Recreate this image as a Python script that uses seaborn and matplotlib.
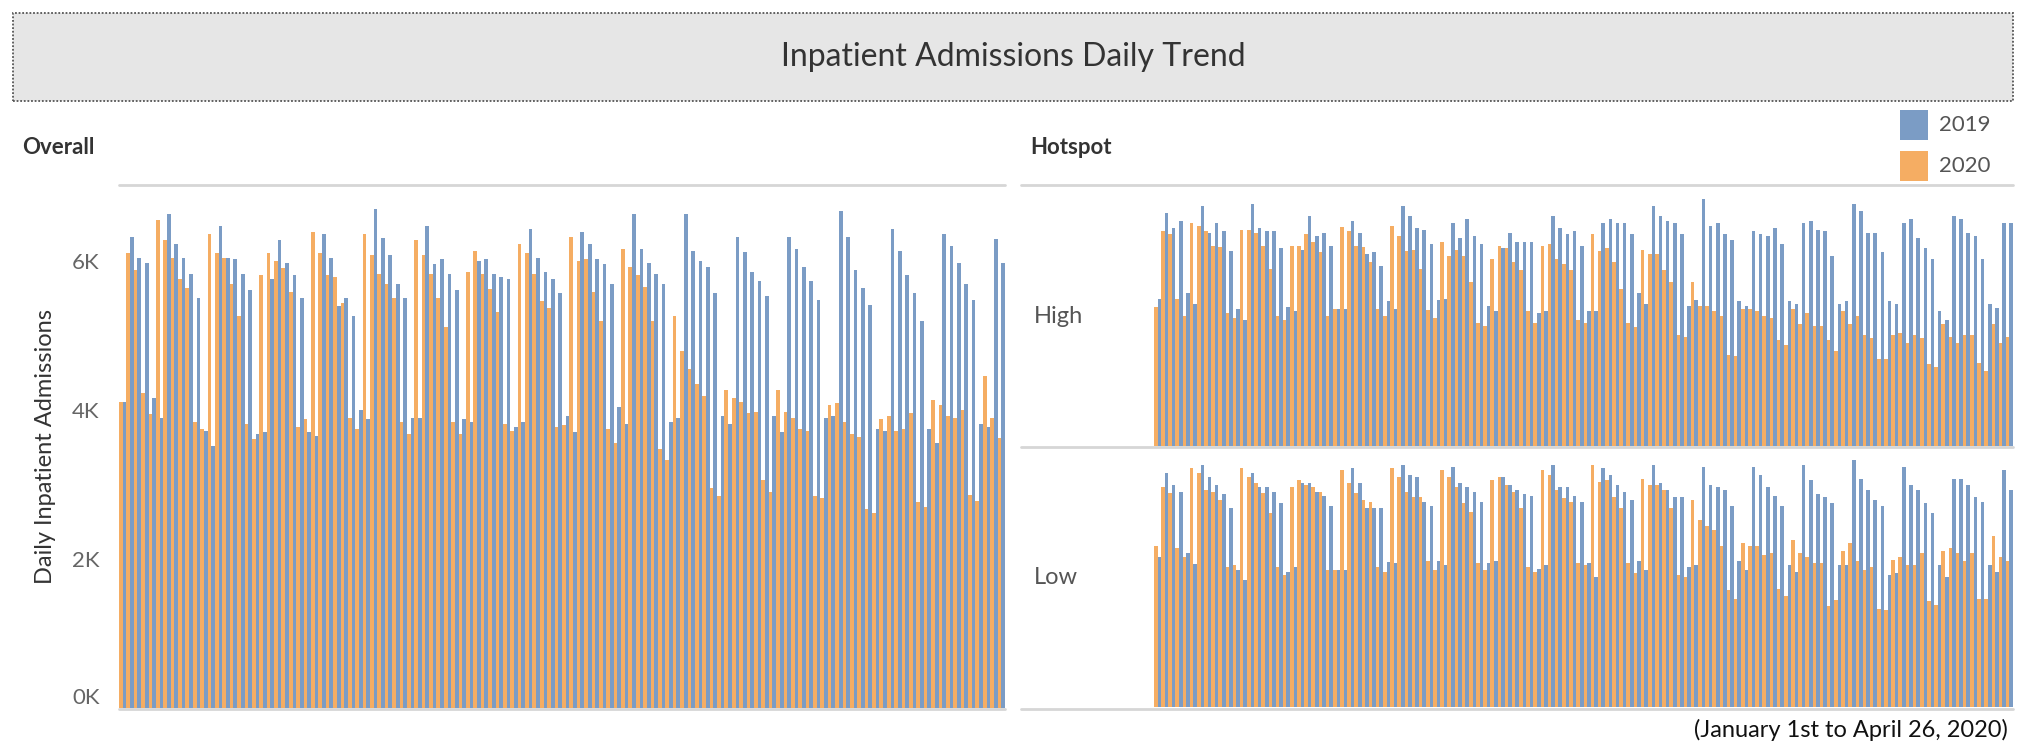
import pandas as pd
import seaborn as sns
import matplotlib.pyplot as plt
from matplotlib.patches import Rectangle
from matplotlib.lines import Line2D

# day of year, Jan 1 .. Apr 29/30
days = list(range(1, 121))

# overall daily inpatient admissions, in thousands
overall_2019 = [4.11, 6.32, 6.04, 5.97, 4.16, 3.89, 6.63, 6.22, 6.04, 5.82, 5.50, 3.71, 3.52, 6.46, 6.03, 6.02, 5.82, 5.61, 3.68, 3.70,
                5.75, 6.27, 5.97, 5.80, 5.50, 3.70, 3.65, 6.36, 6.03, 5.39, 5.50, 5.25, 4.00, 3.87, 6.69, 6.30, 6.07, 5.68, 5.50, 3.89,
                3.89, 6.46, 5.95, 6.02, 5.82, 5.61, 3.87, 3.84, 6.00, 6.02, 5.82, 5.78, 5.75, 3.77, 3.84, 6.42, 6.04, 5.85, 5.75, 5.56,
                3.92, 3.70, 6.38, 6.22, 6.02, 5.95, 5.68, 4.03, 3.81, 6.63, 6.16, 5.97, 5.82, 5.68, 3.84, 3.89, 6.63, 6.13, 6.00, 5.92,
                5.56, 3.92, 3.81, 6.32, 6.11, 5.85, 5.73, 5.53, 3.92, 3.70, 6.32, 6.16, 5.92, 5.73, 5.47, 3.89, 3.92, 6.66, 6.32, 5.88,
                5.63, 5.41, 3.74, 3.72, 6.42, 6.13, 5.80, 5.56, 5.19, 3.74, 3.55, 6.36, 6.20, 5.97, 5.68, 5.47, 3.81, 3.77, 6.29, 5.97]
overall_2020 = [4.11, 6.10, 5.88, 4.22, 3.94, 6.55, 6.27, 6.04, 5.75, 5.63, 3.84, 3.74, 6.36, 6.10, 6.04, 5.68, 5.25, 3.81, 3.61, 5.80,
                6.10, 6.00, 5.90, 5.58, 3.77, 3.87, 6.38, 6.10, 5.80, 5.78, 5.43, 3.89, 3.74, 6.36, 6.07, 5.82, 5.68, 5.50, 3.84, 3.68,
                6.27, 6.07, 5.82, 5.50, 5.11, 3.84, 3.68, 5.85, 6.13, 5.82, 5.62, 5.31, 3.81, 3.72, 6.22, 6.10, 5.82, 5.46, 5.37, 3.77,
                3.79, 6.32, 6.00, 6.02, 5.58, 5.19, 3.74, 3.55, 6.16, 5.92, 5.80, 5.64, 5.19, 3.47, 3.33, 5.25, 4.79, 4.55, 4.34, 4.19,
                2.95, 2.84, 4.26, 4.16, 4.11, 3.95, 3.97, 3.06, 2.89, 4.26, 3.97, 3.89, 3.74, 3.72, 2.84, 2.81, 4.06, 4.09, 3.84, 3.67,
                3.64, 2.67, 2.62, 3.87, 3.92, 3.72, 3.74, 3.95, 2.76, 2.69, 4.13, 4.06, 3.92, 3.89, 4.00, 2.86, 2.78, 4.45, 3.89, 3.62]

# hotspot panels (no axis shown, estimated in thousands)
high_2019 = [2.20, 3.49, 3.27, 3.37, 2.29, 2.13, 3.59, 3.19, 3.34, 3.22, 2.92, 2.05, 1.89, 3.62, 3.27, 3.22, 3.22, 2.97, 2.08, 2.02,
             2.94, 3.45, 3.15, 3.19, 3.00, 2.05, 2.05, 3.37, 3.19, 2.87, 2.90, 2.69, 2.17, 2.05, 3.59, 3.45, 3.27, 3.24, 3.03, 2.19,
             2.20, 3.34, 3.12, 3.40, 3.15, 3.03, 2.10, 2.02, 2.97, 3.19, 3.05, 3.05, 3.05, 1.99, 2.02, 3.44, 3.27, 3.17, 3.22, 3.00,
             2.02, 2.02, 3.34, 3.40, 3.34, 3.34, 3.17, 2.29, 2.13, 3.59, 3.44, 3.37, 3.34, 3.17, 2.09, 2.18, 3.70, 3.30, 3.34, 3.17,
             3.09, 2.17, 2.10, 3.22, 3.17, 3.15, 3.27, 3.03, 2.17, 2.13, 3.34, 3.37, 3.24, 3.22, 2.84, 2.13, 2.17, 3.62, 3.52, 3.19,
             3.19, 2.90, 2.17, 2.13, 3.34, 3.40, 3.12, 2.97, 2.80, 2.02, 1.89, 3.45, 3.40, 3.19, 3.15, 2.80, 2.13, 2.07, 3.34, 3.34]
high_2020 = [2.08, 3.22, 3.17, 2.20, 1.95, 3.34, 3.30, 3.22, 3.00, 2.98, 1.99, 1.92, 3.24, 3.24, 3.19, 3.00, 2.65, 1.95, 1.89, 3.00,
             3.00, 3.17, 3.05, 2.90, 1.95, 2.05, 3.28, 3.22, 3.00, 2.98, 2.75, 2.05, 1.95, 3.30, 3.15, 2.92, 2.94, 2.65, 2.03, 1.92,
             3.05, 2.84, 2.94, 2.84, 2.45, 1.85, 1.80, 2.80, 3.00, 2.97, 2.75, 2.63, 2.02, 1.85, 3.00, 3.03, 2.80, 2.73, 2.63, 1.89,
             1.85, 3.17, 2.92, 2.97, 2.75, 2.35, 1.85, 1.78, 2.94, 2.87, 2.87, 2.63, 2.45, 1.67, 1.64, 2.45, 2.09, 2.09, 2.02, 1.95,
             1.37, 1.35, 2.05, 2.05, 2.02, 1.95, 1.92, 1.59, 1.52, 2.05, 1.83, 1.99, 1.80, 1.80, 1.59, 1.42, 2.02, 1.83, 1.95, 1.67,
             1.62, 1.30, 1.30, 1.67, 1.70, 1.55, 1.67, 1.62, 1.23, 1.18, 1.83, 1.64, 1.55, 1.67, 1.67, 1.24, 1.12, 1.83, 1.55, 1.64]
low_2019 = [1.95, 3.05, 2.89, 2.80, 2.00, 1.86, 3.15, 2.99, 2.89, 2.77, 2.59, 1.78, 1.66, 3.05, 2.87, 2.87, 2.80, 2.65, 1.76, 1.82,
            2.92, 2.92, 2.80, 2.75, 2.62, 1.78, 1.78, 3.11, 2.92, 2.59, 2.59, 2.59, 1.89, 1.88, 3.15, 3.02, 2.99, 2.67, 2.62, 1.90,
            1.85, 3.13, 2.92, 2.87, 2.80, 2.67, 1.88, 1.90, 2.99, 2.89, 2.83, 2.77, 2.75, 1.80, 1.85, 3.15, 2.87, 2.87, 2.75, 2.67,
            1.88, 1.69, 3.11, 3.02, 2.89, 2.80, 2.70, 1.90, 1.78, 3.15, 2.92, 2.83, 2.73, 2.73, 1.82, 1.85, 3.13, 2.89, 2.86, 2.83,
            2.62, 1.90, 1.78, 3.13, 3.02, 2.87, 2.75, 2.62, 1.85, 1.76, 3.15, 2.95, 2.77, 2.73, 2.65, 1.85, 1.85, 3.21, 2.97, 2.83,
            2.70, 2.62, 1.72, 1.74, 3.13, 2.89, 2.83, 2.65, 2.52, 1.85, 1.69, 2.97, 2.97, 2.89, 2.73, 2.67, 1.85, 1.76, 3.08, 2.83]
low_2020 = [2.10, 2.87, 2.78, 2.07, 1.95, 3.11, 3.05, 2.83, 2.80, 2.69, 1.82, 1.85, 3.11, 2.99, 2.92, 2.78, 2.52, 1.82, 1.72, 2.87,
            2.95, 2.89, 2.87, 2.80, 1.78, 1.78, 3.08, 2.92, 2.78, 2.70, 2.67, 1.82, 1.76, 3.11, 2.99, 2.80, 2.73, 2.73, 1.90, 1.78,
            3.08, 2.99, 2.87, 2.65, 2.54, 1.88, 1.78, 2.95, 2.99, 2.89, 2.80, 2.59, 1.82, 1.76, 3.08, 3.02, 2.83, 2.72, 2.67, 1.88,
            1.85, 3.15, 2.93, 2.96, 2.73, 2.59, 1.88, 1.74, 2.97, 2.89, 2.89, 2.83, 2.59, 1.72, 1.69, 2.70, 2.43, 2.36, 2.31, 2.10,
            1.52, 1.41, 2.13, 2.10, 2.10, 1.98, 2.00, 1.54, 1.44, 2.17, 2.00, 1.95, 1.88, 1.88, 1.31, 1.39, 2.03, 2.14, 1.90, 1.78,
            1.82, 1.28, 1.26, 1.92, 1.95, 1.85, 1.85, 2.00, 1.38, 1.33, 2.03, 2.07, 2.00, 1.90, 2.00, 1.41, 1.41, 2.22, 1.95, 1.90]

years = ['2019', '2020']
BLUE = '#7b9cc5'
ORANGE = '#f5ad63'
palette = {'2019': BLUE, '2020': ORANGE}
LINE = '#d6d6d6'


def long_frame(v2019, v2020, scale=1.0):
    return pd.DataFrame({
        'day': days * 2,
        'year': [years[0]] * len(days) + [years[1]] * len(days),
        'value': [v * scale for v in v2019 + v2020],
    })


sns.set_theme(style='white')
plt.rcParams['font.family'] = ['Lato', 'DejaVu Sans']

W, H = 2026, 746
fig = plt.figure(figsize=(W / 100, H / 100), dpi=100)


def box(x0, y0, x1, y1):
    # pixel box (from top-left) -> figure fraction [left, bottom, width, height]
    return [x0 / W, 1 - y1 / H, (x1 - x0) / W, (y1 - y0) / H]


def hline(x0, x1, y, color=LINE, lw=2.0):
    fig.add_artist(Line2D([x0 / W, x1 / W], [1 - y / H, 1 - y / H], color=color, lw=lw))


def draw_bars(ax, df, top):
    sns.barplot(data=df, x='day', y='value', hue='year', hue_order=['2020', '2019'],
                palette=palette, width=1.0, gap=0, saturation=1, errorbar=None,
                legend=False, linewidth=0, ax=ax)
    ax.set_ylim(0, top)
    ax.set_xlabel('')
    ax.set_ylabel('')
    ax.set_xticks([])
    sns.despine(ax=ax, left=True, bottom=True)


# title banner
fig.add_artist(Rectangle((13 / W, 1 - 101 / H), 2000 / W, 88 / H, transform=fig.transFigure,
                         facecolor='#e6e6e6', edgecolor='#555555', lw=1.3, linestyle=(0, (1, 1))))
fig.text(1013 / W, 1 - 57 / H, 'Inpatient Admissions Daily Trend', ha='center', va='center',
         fontsize=23, color='#333333')

# overall panel
ax_o = fig.add_axes(box(119, 186, 1005, 708))
draw_bars(ax_o, long_frame(overall_2019, overall_2020, 1000), 7000)
ax_o.set_yticks([0, 2000, 4000, 6000])
ax_o.set_yticklabels(['0K', '2K', '4K', '6K'])
ax_o.tick_params(axis='y', length=0, pad=14, labelsize=16, labelcolor='#666666')
ax_o.get_yticklabels()[0].set_va('bottom')
fig.text(45 / W, 1 - 446 / H, 'Daily Inpatient Admissions', rotation=90, ha='center', va='center',
         fontsize=17, color='#333333')
fig.text(22 / W, 1 - 148 / H, 'Overall', ha='left', va='center', fontsize=16, fontweight='bold', color='#333333')

# hotspot panels
ax_h = fig.add_axes(box(1154, 191, 2013, 446))
draw_bars(ax_h, long_frame(high_2019, high_2020), 3.82)
ax_h.set_yticks([])
ax_l = fig.add_axes(box(1154, 452, 2013, 707))
draw_bars(ax_l, long_frame(low_2019, low_2020), 3.32)
ax_l.set_yticks([])
fig.text(1030 / W, 1 - 148 / H, 'Hotspot', ha='left', va='center', fontsize=16, fontweight='bold', color='#333333')
fig.text(1034 / W, 1 - 317 / H, 'High', ha='left', va='center', fontsize=17, color='#555555')
fig.text(1034 / W, 1 - 577 / H, 'Low', ha='left', va='center', fontsize=17, color='#555555')

# separator lines
hline(119, 1005, 185)
hline(1021, 2013, 185)
hline(119, 1005, 709)
hline(1021, 2013, 447)
hline(1021, 2013, 709)

# legend
for i, yr in enumerate(years):
    y0 = 110 + i * 41
    fig.add_artist(Rectangle((1900 / W, 1 - (y0 + 30) / H), 28 / W, 30 / H, transform=fig.transFigure,
                             facecolor=palette[yr], edgecolor='none'))
    fig.text(1939 / W, 1 - (y0 + 15) / H, yr, ha='left', va='center', fontsize=16, color='#555555')

fig.text(2008 / W, 1 - 730 / H, '(January 1st to April 26, 2020)', ha='right', va='center',
         fontsize=17, color='#111111')

fig.savefig('out.png', dpi=100)
